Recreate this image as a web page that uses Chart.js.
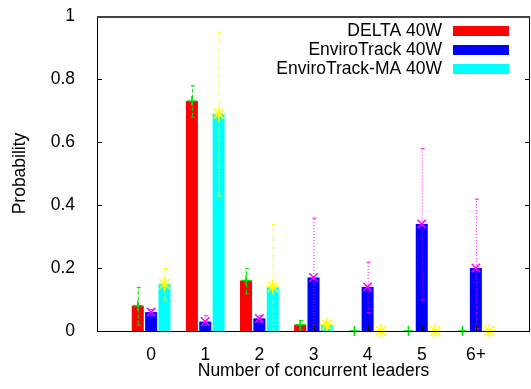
<!DOCTYPE html>
<html>
<head>
<meta charset="utf-8">
<script src="https://cdn.jsdelivr.net/npm/chart.js@4.4.1/dist/chart.umd.min.js"></script>
<style>
  html, body { margin: 0; padding: 0; background: #fff; }
  #wrap { width: 531px; height: 389px; }
</style>
</head>
<body>
<div id="wrap"><canvas id="leadersChart" width="531" height="389"></canvas></div>
<script>
// data
const categories = ['0', '1', '2', '3', '4', '5', '6+'];
const yTicks = [0, 0.2, 0.4, 0.6, 0.8, 1];

const delta = [0.08, 0.73, 0.16, 0.02, 0, 0, 0];
const deltaLow = [0.02, 0.68, 0.12, 0.005, 0, 0, 0];
const deltaHigh = [0.14, 0.78, 0.20, 0.035, 0, 0, 0];

const enviro = [0.06, 0.03, 0.04, 0.17, 0.14, 0.34, 0.20];
const enviroLow = [0.05, 0.02, 0.03, 0.0, 0.06, 0.10, 0.01];
const enviroHigh = [0.07, 0.05, 0.05, 0.36, 0.22, 0.58, 0.42];

const enviroMA = [0.15, 0.69, 0.14, 0.02, 0, 0, 0];
const enviroMALow = [0.10, 0.43, 0.0, 0.01, 0, 0, 0];
const enviroMAHigh = [0.20, 0.95, 0.34, 0.03, 0, 0, 0];

// pad with an empty slot on each side so the axis runs from -1 to 7
const labels = [''].concat(categories, ['']);
function pad(arr) { return [null].concat(arr, [null]); }

const FONT = '"Liberation Sans", Arial, Helvetica, sans-serif';
const FSIZE = 17.5;

const errorInfo = [
    { low: deltaLow, high: deltaHigh, color: '#00dd00', dash: [4, 2], marker: 'cross', size: 5 },
    { low: enviroLow, high: enviroHigh, color: '#ff00ff', dash: [1, 2], marker: 'crossRot', size: 6 },
    { low: enviroMALow, high: enviroMAHigh, color: '#ffff00', dash: [4, 2, 1, 2], marker: 'star', size: 7 }
];

// error bars, markers, inward ticks, frame and legend drawn with the chart's scales
const gnuplotStyle = {
    id: 'gnuplotStyle',
    afterDatasetsDraw(chart) {
        const ctx = chart.ctx;
        const y = chart.scales.y;
        ctx.save();
        errorInfo.forEach(function (info, di) {
            const meta = chart.getDatasetMeta(di);
            const values = chart.data.datasets[di].data;
            meta.data.forEach(function (bar, j) {
                if (values[j] === null) return;
                const k = j - 1;
                const px = bar.x;
                const yLo = y.getPixelForValue(info.low[k]);
                const yHi = y.getPixelForValue(info.high[k]);
                ctx.strokeStyle = info.color;
                ctx.lineWidth = 1;
                ctx.setLineDash(info.dash);
                ctx.beginPath();
                ctx.moveTo(px + 0.5, yLo);
                ctx.lineTo(px + 0.5, yHi);
                ctx.stroke();
                ctx.setLineDash([]);
                if (info.high[k] - info.low[k] > 0.001) {
                    ctx.beginPath();
                    ctx.moveTo(px - 1, yHi + 0.5); ctx.lineTo(px + 3, yHi + 0.5);
                    ctx.moveTo(px - 1, yLo + 0.5); ctx.lineTo(px + 3, yLo + 0.5);
                    ctx.stroke();
                }
                ctx.lineWidth = 1.5;
                Chart.helpers.drawPoint(ctx, {
                    pointStyle: info.marker,
                    radius: info.size,
                    rotation: 0,
                    borderWidth: 1.5
                }, px, y.getPixelForValue(values[j]));
            });
        });
        ctx.restore();
    },
    afterDraw(chart) {
        const ctx = chart.ctx;
        const area = chart.chartArea;
        const x = chart.scales.x;
        const y = chart.scales.y;
        ctx.save();
        ctx.strokeStyle = '#000';
        ctx.lineWidth = 1;
        ctx.beginPath();
        // inward ticks
        yTicks.forEach(function (v) {
            const py = Math.round(y.getPixelForValue(v)) + 0.5;
            ctx.moveTo(area.left, py); ctx.lineTo(area.left + 5, py);
            ctx.moveTo(area.right, py); ctx.lineTo(area.right - 5, py);
        });
        for (let i = 1; i <= categories.length; i++) {
            const px = Math.round(x.getPixelForValue(i)) + 0.5;
            ctx.moveTo(px, area.bottom); ctx.lineTo(px, area.bottom - 5);
        }
        ctx.stroke();
        // frame
        ctx.beginPath();
        ctx.moveTo(area.left + 0.5, area.top);
        ctx.lineTo(area.left + 0.5, area.bottom + 0.5);
        ctx.lineTo(area.right - 0.5, area.bottom + 0.5);
        ctx.lineTo(area.right - 0.5, area.top);
        ctx.stroke();
        ctx.strokeStyle = '#404040';
        ctx.lineWidth = 2;
        ctx.beginPath();
        ctx.moveTo(area.left, area.top + 1);
        ctx.lineTo(area.right, area.top + 1);
        ctx.stroke();

        // legend, gnuplot style: text then a colour sample
        ctx.font = FSIZE + 'px ' + FONT;
        ctx.textAlign = 'right';
        ctx.textBaseline = 'middle';
        chart.data.datasets.forEach(function (ds, i) {
            const rowY = area.top + 15 + i * 19;
            ctx.fillStyle = '#000';
            ctx.fillText(ds.label, area.right - 88, rowY);
            ctx.fillStyle = ds.backgroundColor;
            ctx.fillRect(area.right - 77, rowY - 5, 56, 10);
        });
        ctx.restore();
    }
};

const ctx = document.getElementById('leadersChart').getContext('2d');
new Chart(ctx, {
    type: 'bar',
    data: {
        labels: labels,
        datasets: [
            { label: 'DELTA 40W', data: pad(delta), backgroundColor: '#ff0000' },
            { label: 'EnviroTrack 40W', data: pad(enviro), backgroundColor: '#0000ff' },
            { label: 'EnviroTrack-MA 40W', data: pad(enviroMA), backgroundColor: '#00ffff' }
        ]
    },
    options: {
        responsive: false,
        animation: false,
        devicePixelRatio: 1,
        layout: { padding: { top: 16, right: 1, left: 0, bottom: 0 } },
        datasets: {
            bar: { categoryPercentage: 0.74, barPercentage: 0.9 }
        },
        plugins: {
            legend: { display: false },
            tooltip: { enabled: false }
        },
        scales: {
            x: {
                offset: false,
                grid: { display: false },
                border: { display: false },
                ticks: {
                    autoSkip: false,
                    maxRotation: 0,
                    padding: 6,
                    color: '#000',
                    font: { family: FONT, size: FSIZE }
                },
                title: {
                    display: true,
                    text: 'Number of concurrent leaders',
                    color: '#000',
                    font: { family: FONT, size: FSIZE },
                    padding: { top: 0, bottom: 7 }
                },
                afterFit: function (scale) {
                    scale.height = 58;
                    scale.paddingLeft = 0;
                    scale.paddingRight = 0;
                }
            },
            y: {
                min: 0,
                max: 1,
                grid: { display: false },
                border: { display: false },
                afterBuildTicks: function (scale) {
                    scale.ticks = yTicks.map(function (v) { return { value: v }; });
                },
                ticks: {
                    padding: 14,
                    color: '#000',
                    font: { family: FONT, size: FSIZE },
                    callback: function (value) { return String(value); }
                },
                title: {
                    display: true,
                    text: 'Probability',
                    color: '#000',
                    font: { family: FONT, size: FSIZE },
                    padding: { top: 10, bottom: 8 }
                },
                afterFit: function (scale) {
                    scale.width = 97;
                    scale.paddingTop = 0;
                    scale.paddingBottom = 0;
                }
            }
        }
    },
    plugins: [gnuplotStyle]
});
</script>
</body>
</html>
